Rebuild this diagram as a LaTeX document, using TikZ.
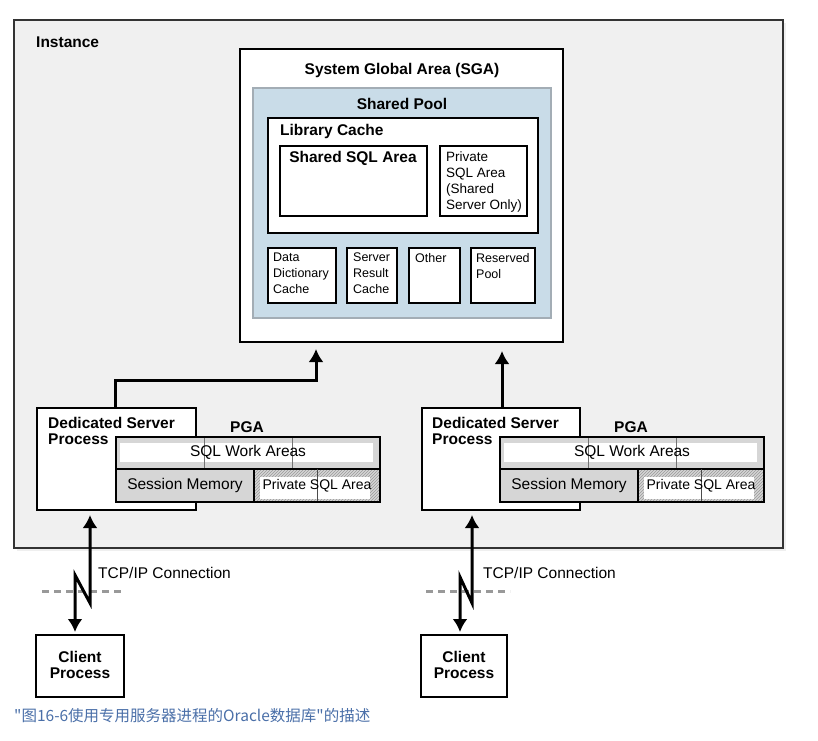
\documentclass[tikz,border=0pt]{standalone}
\usepackage{fontspec}
\setmainfont{Liberation Sans}
\newfontfamily\cjk{Noto Sans CJK SC}
\usetikzlibrary{positioning}
\usetikzlibrary{calc}
\usetikzlibrary{arrows.meta,patterns,shadows}
\definecolor{instgray}{HTML}{F0F0F0}
\definecolor{poolblue}{HTML}{C9DCE8}
\definecolor{poolline}{HTML}{A3ADB5}
\definecolor{pgagray}{HTML}{D6D6D6}
\definecolor{capblue}{HTML}{4A6FA8}
\begin{document}
\begin{tikzpicture}[x=1pt,y=-1pt,
  box/.style={draw,line width=1.5pt,fill=white,anchor=north west,inner sep=0,outer sep=0},
  bold/.style={font=\fontsize{15.5}{16}\selectfont\bfseries,inner sep=0,align=left},
  txt/.style={font=\fontsize{15.5}{16}\selectfont,inner sep=0},
  small/.style={font=\fontsize{12.5}{16}\selectfont,inner sep=0,align=left,anchor=north west},
  link/.style={line width=3pt},
  tip/.tip={Latex[length=13pt,width=15pt]}]
\useasboundingbox (0,0) rectangle (818,740);

\node[box,fill=instgray,draw=black!80,minimum width=769,minimum height=528,
  drop shadow={shadow xshift=3pt,shadow yshift=-3pt,fill=black!12}](inst) at (14,20){};
\node[bold,anchor=west](instt) at (36,42){Instance};

\node[box,minimum width=323,minimum height=293](sga) at (240,49){};
\node[bold](sgat) at (402,70){System Global Area (SGA)};
\node[box,fill=poolblue,draw=poolline,line width=2.5pt,minimum width=298,minimum height=230](pool) at (253,88){};
\node[bold](poolt) at (402,104){Shared Pool};
\node[box,minimum width=270,minimum height=115](lib) at (268,118){};
\node[bold,anchor=west](libt) at (280,131){Library Cache};
\node[box,minimum width=147,minimum height=70](ssql) at (280,146){};
\node[bold](ssqlt) at (353,158){Shared SQL Area};
\node[box,minimum width=87,minimum height=70](psql) at (440,146){};
\node[small,font=\fontsize{13.5}{15.7}\selectfont](psqlt) at (446,152){Private\\SQL Area\\(Shared\\Server Only)};

\node[box,minimum width=68,minimum height=55](ddc) at (268,248){};
\node[small](ddct) at (273,253){Data\\Dictionary\\Cache};
\node[box,minimum width=50,minimum height=55](src) at (347,248){};
\node[small](srct) at (353,253){Server\\Result\\Cache};
\node[box,minimum width=51,minimum height=55](oth) at (409,248){};
\node[small](otht) at (415,253){Other};
\node[box,minimum width=64,minimum height=55](rsv) at (471,248){};
\node[small](rsvt) at (476,253){Reserved\\Pool};

\node[box,minimum width=159,minimum height=102](dsp1) at (37,408){};
\node[bold,anchor=north west](dsp1t) at (48,417){Dedicated Server\\Process};
\node[bold](pga1t) at (247,427){PGA};
\node[box,fill=pgagray,minimum width=264,minimum height=65](pga1) at (116,437){};
\fill[pgagray] (254,469) rectangle (380,502);
\fill[pattern=north east lines,pattern color=black!40] (254,469) rectangle (380,502);
\node[box,draw=none,minimum width=253,minimum height=19](wa1) at (120,443){};
\node[box,draw=none,minimum width=110,minimum height=22](pv1) at (260,477){};
\draw[black!55,line width=1pt] (204,437) -- (204,469) (292,437) -- (292,469);
\draw[line width=1.5pt] (116,469) -- (380,469) (254,469) -- (254,502);
\draw[black!70,line width=1pt] (317,469) -- (317,502);
\draw[line width=1.5pt] (pga1.north west) rectangle (pga1.south east);
\node[txt](wa1t) at (248,452){SQL Work Areas};
\node[txt](sm1t) at (185,485){Session Memory};
\node[txt,font=\fontsize{14}{16}\selectfont](pv1t) at (317,486){Private SQL Area};

\node[box,minimum width=158,minimum height=102](dsp2) at (422,408){};
\node[bold,anchor=north west](dsp2t) at (432,417){Dedicated Server\\Process};
\node[bold](pga2t) at (631,427){PGA};
\node[box,fill=pgagray,minimum width=264,minimum height=65](pga2) at (500,437){};
\fill[pgagray] (638,469) rectangle (764,502);
\fill[pattern=north east lines,pattern color=black!40] (638,469) rectangle (764,502);
\node[box,draw=none,minimum width=253,minimum height=19](wa2) at (504,443){};
\node[box,draw=none,minimum width=110,minimum height=22](pv2) at (644,477){};
\draw[black!55,line width=1pt] (588,437) -- (588,469) (676,437) -- (676,469);
\draw[line width=1.5pt] (500,469) -- (764,469) (638,469) -- (638,502);
\draw[black!70,line width=1pt] (701,469) -- (701,502);
\draw[line width=1.5pt] (pga2.north west) rectangle (pga2.south east);
\node[txt](wa2t) at (632,452){SQL Work Areas};
\node[txt](sm2t) at (569,485){Session Memory};
\node[txt,font=\fontsize{14}{16}\selectfont](pv2t) at (701,486){Private SQL Area};

\node[box,minimum width=88,minimum height=62](cp1) at (36,635){};
\node[bold,align=center](cp1t) at (80,665){Client\\Process};
\node[box,minimum width=86,minimum height=62](cp2) at (421,635){};
\node[bold,align=center](cp2t) at (464,665){Client\\Process};

\node[txt,anchor=west](tcp1) at (98,573){TCP/IP Connection};
\node[txt,anchor=west](tcp2) at (483,573){TCP/IP Connection};
\draw[black!40,line width=3pt,dash pattern=on 7pt off 5pt] (42,591) -- (125,591);
\draw[black!40,line width=3pt,dash pattern=on 7pt off 5pt] (426,591) -- (510,591);

\coordinate (up1a) at (115,380);
\coordinate (up1b) at (316,380);
\coordinate (up2) at (502,380);
\coordinate (zz1a) at (90,603);
\coordinate (zz1b) at (75,575);
\coordinate (zz2a) at (472,603);
\coordinate (zz2b) at (460,577);

\draw[link,-tip,shorten >=7pt] (dsp1.north -| up1a) -- (up1a) -- (up1b) -- (sga.south -| up1b);
\draw[link,-tip,shorten >=9pt] (dsp2.north -| up2) -- (sga.south -| up2);
\draw[link,tip-tip,shorten <=3pt,shorten >=5pt] (cp1.north -| zz1b) -- (zz1b) -- (zz1a) -- (dsp1.south -| zz1a);
\draw[link,tip-tip,shorten <=3pt,shorten >=5pt] (cp2.north -| zz2b) -- (zz2b) -- (zz2a) -- (dsp2.south -| zz2a);

\node[anchor=west,inner sep=0,text=capblue,font=\cjk\fontsize{15.5}{17}\selectfont](cap) at (14,716){"图16-6使用专用服务器进程的Oracle数据库"的描述};
\end{tikzpicture}
\end{document}
